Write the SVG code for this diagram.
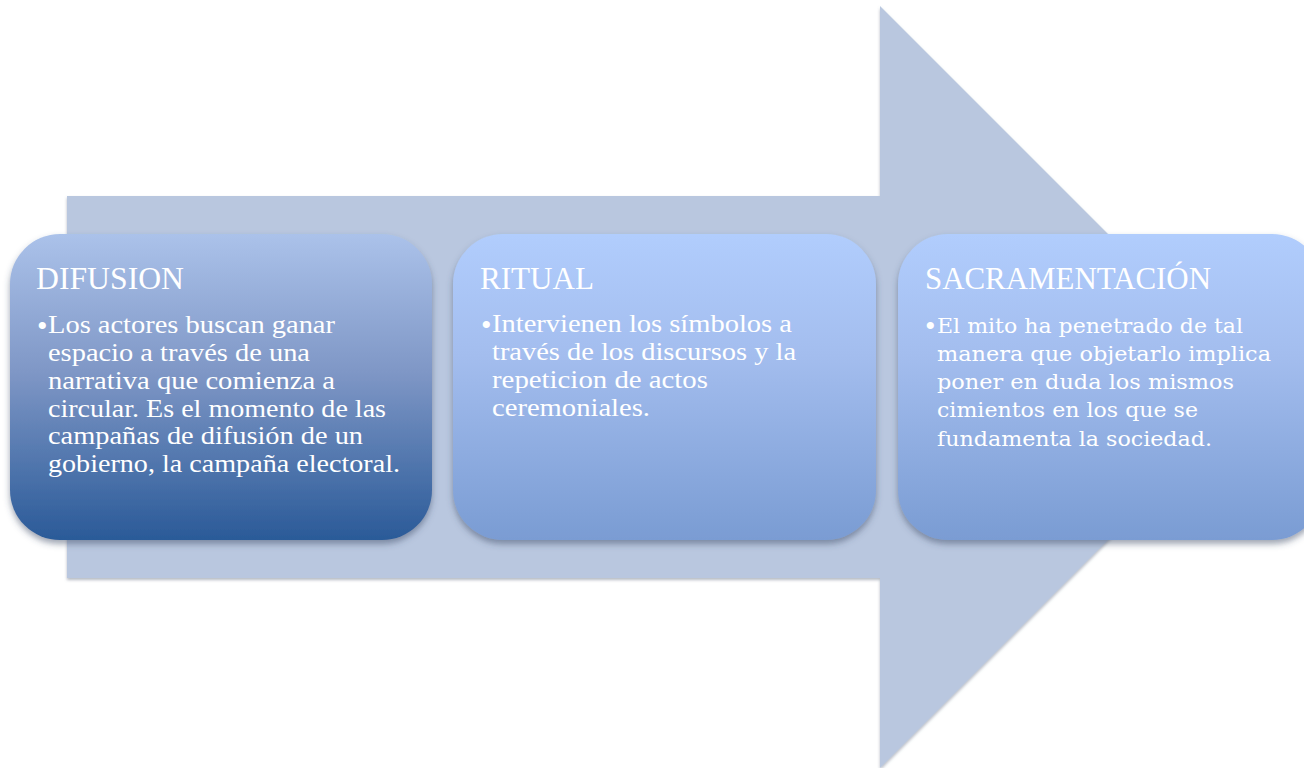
<svg xmlns="http://www.w3.org/2000/svg" width="1304" height="768" viewBox="0 0 1304 768">
  <defs>
    <linearGradient id="gDark" x1="0" y1="0" x2="0" y2="1">
      <stop offset="0" stop-color="#abc2ea"/>
      <stop offset="0.45" stop-color="#7f97c6"/>
      <stop offset="1" stop-color="#2a5a98"/>
    </linearGradient>
    <linearGradient id="gLight" x1="0" y1="0" x2="0" y2="1">
      <stop offset="0" stop-color="#b1cdfd"/>
      <stop offset="0.4" stop-color="#a3bdee"/>
      <stop offset="1" stop-color="#7a9cd3"/>
    </linearGradient>
    <filter id="shadow" x="-10%" y="-10%" width="120%" height="130%">
      <feDropShadow dx="0" dy="4" stdDeviation="3" flood-color="#3a4a66" flood-opacity="0.5"/>
    </filter>
    <filter id="arrowShadow" x="-5%" y="-5%" width="110%" height="110%">
      <feDropShadow dx="0" dy="2" stdDeviation="1.5" flood-color="#6a7488" flood-opacity="0.5"/>
    </filter>
  </defs>
  <style>
    .title { font-family: "Liberation Serif", "DejaVu Serif", serif; font-size: 31px; fill: #ffffff; }
    .body { font-family: "Liberation Serif", "DejaVu Serif", serif; font-size: 25px; fill: #ffffff; }
    .body3 { font-family: "DejaVu Serif", "Liberation Serif", serif; font-size: 21px; fill: #ffffff; }
    .dot { font-family: "Liberation Serif", serif; font-size: 30px; fill: #ffffff; }
  </style>

  <rect width="1304" height="768" fill="#ffffff"/>

  <!-- background block arrow -->
  <g id="arrow">
    <polygon points="67,196 880,196 880,6 1261,387 880,768 880,578 67,578" fill="#b9c7df" filter="url(#arrowShadow)"/>
  </g>

  <g id="connectors"></g>

  <!-- stage 1 -->
  <g id="difusion">
    <rect x="10" y="234" width="422" height="306" rx="50" ry="50" fill="url(#gDark)" filter="url(#shadow)"/>
    <text class="title" x="36" y="289" textLength="148" lengthAdjust="spacingAndGlyphs">DIFUSION</text>
    <text class="dot" x="37" y="336">•</text>
    <text class="body" x="48" y="333" textLength="287" lengthAdjust="spacingAndGlyphs">Los actores buscan ganar</text>
    <text class="body" x="48" y="361" textLength="262" lengthAdjust="spacingAndGlyphs">espacio a través de una</text>
    <text class="body" x="48" y="389" textLength="287" lengthAdjust="spacingAndGlyphs">narrativa que comienza a</text>
    <text class="body" x="48" y="417" textLength="338" lengthAdjust="spacingAndGlyphs">circular. Es el momento de las</text>
    <text class="body" x="48" y="444" textLength="315" lengthAdjust="spacingAndGlyphs">campañas de difusión de un</text>
    <text class="body" x="48" y="472" textLength="352" lengthAdjust="spacingAndGlyphs">gobierno, la campaña electoral.</text>
  </g>

  <!-- stage 2 -->
  <g id="ritual">
    <rect x="453" y="234" width="423" height="306" rx="50" ry="50" fill="url(#gLight)" filter="url(#shadow)"/>
    <text class="title" x="480" y="289" textLength="114" lengthAdjust="spacingAndGlyphs">RITUAL</text>
    <text class="dot" x="481" y="335">•</text>
    <text class="body" x="492" y="332" textLength="300" lengthAdjust="spacingAndGlyphs">Intervienen los símbolos a</text>
    <text class="body" x="492" y="360" textLength="304" lengthAdjust="spacingAndGlyphs">través de los discursos y la</text>
    <text class="body" x="492" y="388" textLength="216" lengthAdjust="spacingAndGlyphs">repeticion de actos</text>
    <text class="body" x="492" y="416" textLength="158" lengthAdjust="spacingAndGlyphs">ceremoniales.</text>
  </g>

  <!-- stage 3 -->
  <g id="sacramentacion">
    <rect x="898" y="234" width="424" height="306" rx="50" ry="50" fill="url(#gLight)" filter="url(#shadow)"/>
    <text class="title" x="925" y="289" textLength="286" lengthAdjust="spacingAndGlyphs">SACRAMENTACIÓN</text>
    <text class="dot" x="925" y="336">•</text>
    <text class="body3" x="937" y="333" textLength="306" lengthAdjust="spacingAndGlyphs">El mito ha penetrado de tal</text>
    <text class="body3" x="937" y="361" textLength="334" lengthAdjust="spacingAndGlyphs">manera que objetarlo implica</text>
    <text class="body3" x="937" y="389" textLength="297" lengthAdjust="spacingAndGlyphs">poner en duda los mismos</text>
    <text class="body3" x="937" y="417" textLength="261" lengthAdjust="spacingAndGlyphs">cimientos en los que se</text>
    <text class="body3" x="937" y="446" textLength="275" lengthAdjust="spacingAndGlyphs">fundamenta la sociedad.</text>
  </g>
</svg>
